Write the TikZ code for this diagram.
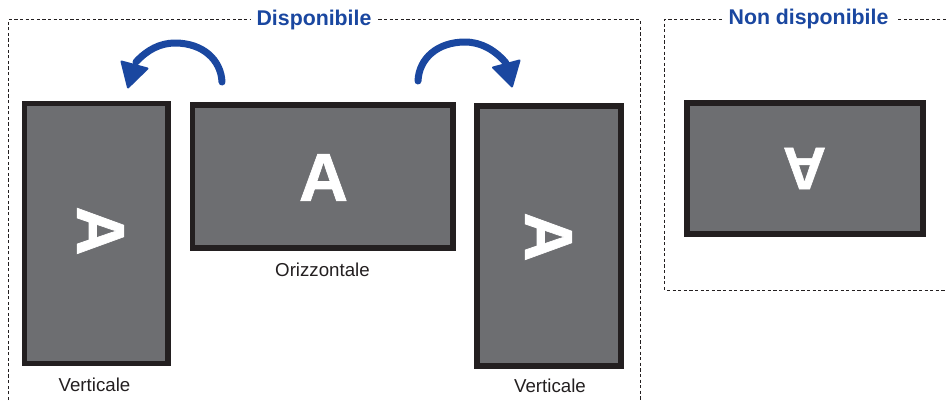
\documentclass[tikz,border=0pt]{standalone}
\usepackage{fontspec}
\setmainfont{Liberation Sans}
\newfontfamily\heavyfont[BoldFeatures={FakeBold=1}]{Liberation Sans}
\definecolor{bluec}{HTML}{1A47A0}
\definecolor{framec}{HTML}{231F20}
\definecolor{fillc}{HTML}{6D6E71}
\tikzset{
  x=1pt,y=-1pt,
  screen/.style={draw=framec,fill=fillc,line width=5.5pt,inner sep=0pt,minimum width=0pt},
  letter/.style={text=white,font=\heavyfont\bfseries\fontsize{68}{68}\selectfont,inner sep=0pt},
  smallletter/.style={text=white,font=\heavyfont\bfseries\fontsize{60}{60}\selectfont,inner sep=0pt},
  caption/.style={text=framec,font=\fontsize{18.7}{20}\selectfont,inner sep=0pt},
  heading/.style={text=bluec,font=\bfseries\fontsize{21.3}{22}\selectfont,inner sep=0pt,fill=white},
  dashbox/.style={draw=framec,line width=1pt,dash pattern=on 3.2pt off 2.4pt},
  rotarrow/.style={draw=bluec,line width=7pt,line cap=round},
  arrowhead/.style={fill=bluec,draw=bluec,line width=2pt,line join=round}
}
\begin{document}
\begin{tikzpicture}
\useasboundingbox (0,0) rectangle (946,400);
% dashed frames
\coordinate (la) at (8.5,400);
\coordinate (lb) at (8.5,19.5);
\coordinate (lc) at (640,19.5);
\coordinate (ld) at (640,400);
\draw[dashbox] (la) -- (lb) -- (lc) -- (ld);
\coordinate (ra) at (946,19.5);
\coordinate (rb) at (664.5,19.5);
\coordinate (rc) at (664.5,290);
\coordinate (rd) at (946,290);
\draw[dashbox] (ra) -- (rb) -- (rc) -- (rd);
\node[heading,minimum width=127pt,minimum height=22pt] (h1) at (314,20) {Disponibile};
\node[heading,minimum width=174pt,minimum height=22pt] (h2) at (808.5,19) {Non disponibile};
% screens
\draw[screen] (24.5,103.5) rectangle (168,363.5);
\draw[screen] (192.5,105) rectangle (453,248);
\draw[screen] (477,106) rectangle (621,366);
\draw[screen] (687,103) rectangle (923,234);
% letters
\node[letter,rotate=-90] (a1) at (100.5,231) {A};
\node[letter] (a2) at (323.5,177.5) {A};
\node[letter,rotate=-90] (a3) at (548.5,237) {A};
\node[smallletter,rotate=180] (a4) at (804.5,168.5) {A};
% captions
\node[caption] (c1) at (94.5,385) {Verticale};
\node[caption] (c2) at (322.5,270) {Orizzontale};
\node[caption] (c3) at (550,386) {Verticale};
% arrows
\draw[rotarrow] (222,82) .. controls (221,60) and (203,43) .. (175,43) .. controls (160,43) and (147,50) .. (136,62);
\draw[arrowhead] (121.5,61.5) -- (147.5,68.5) -- (128,87.5) -- cycle;
\draw[rotarrow] (418,81) .. controls (419,58) and (438,42) .. (465,42) .. controls (481,42) and (495,50) .. (506,63);
\draw[arrowhead] (519.5,60.5) -- (493,67.5) -- (512,86.5) -- cycle;
\end{tikzpicture}
\end{document}
